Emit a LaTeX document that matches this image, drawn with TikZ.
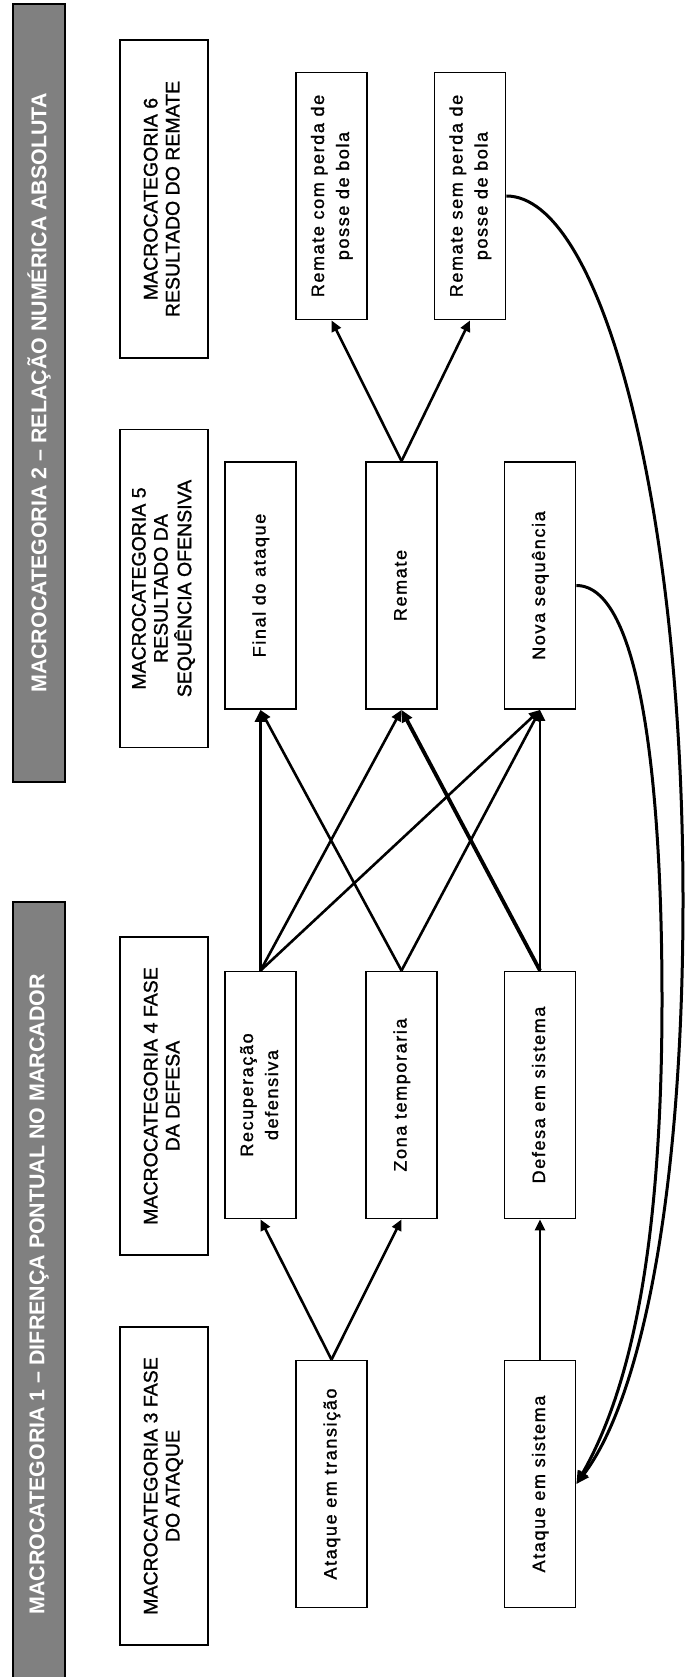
\documentclass[tikz,border=0pt]{standalone}
\usepackage{fontspec}
\usepackage{graphicx}
\setmainfont{Liberation Sans}
\newfontfamily\itemfont[LetterSpace=9,FakeBold=1.2]{Liberation Sans}
\newfontfamily\catfont[FakeBold=1.2]{Liberation Sans}
\usetikzlibrary{arrows.meta}

% vertical (bottom-to-top) multi-line label
\newcommand{\vlabel}[1]{\rotatebox{90}{\begin{tabular}{@{}c@{}}#1\end{tabular}}}

\tikzset{
  band/.style={draw=black, line width=1.8pt, fill=black!50, text=white,
    inner sep=0pt, minimum width=52pt,
    font=\bfseries\fontsize{21.4}{25}\selectfont},
  catbox/.style={draw=black, line width=1.8pt, fill=white, inner sep=0pt,
    minimum width=88pt, minimum height=318pt,
    font=\catfont\fontsize{19.5}{22}\selectfont},
  itembox/.style={draw=black, line width=1.8pt, fill=white, inner sep=0pt,
    minimum width=71pt, minimum height=247pt,
    font=\itemfont\fontsize{18}{25}\selectfont},
  arr/.style={line width=2.6pt, -{Triangle[length=11pt,width=10pt]}},
  thickarr/.style={line width=3.8pt, -{Triangle[length=12pt,width=11pt]}},
  loop/.style={line width=3pt, -{Triangle[length=13pt,width=11pt]}}
}

\begin{document}
\begin{tikzpicture}[x=1pt,y=-1pt]
\useasboundingbox[fill=white] (0,0) rectangle (686,1677);

% side bands
\node[band, minimum height=778pt] (band2) at (39,393)
  {\rotatebox{90}{MACROCATEGORIA 2 – RELAÇÃO NUMÉRICA ABSOLUTA}};
\node[band, minimum height=785pt] (band1) at (39,1294.5)
  {\rotatebox{90}{MACROCATEGORIA 1 – DIFRENÇA PONTUAL NO MARCADOR}};

% category headers
\node[catbox] (cat6) at (164,199)
  {\vlabel{MACROCATEGORIA 6\\RESULTADO DO REMATE}};
\node[catbox] (cat5) at (164,588.5)
  {\vlabel{MACROCATEGORIA 5\\RESULTADO DA\\SEQUÊNCIA OFENSIVA}};
\node[catbox] (cat4) at (164,1096)
  {\vlabel{MACROCATEGORIA 4 FASE\\DA DEFESA}};
\node[catbox] (cat3) at (164,1486)
  {\vlabel{MACROCATEGORIA 3 FASE\\DO ATAQUE}};

% result of the shot
\node[itembox] (rcom) at (331.5,196) {\vlabel{Remate com perda de\\posse de bola}};
\node[itembox] (rsem) at (470,196) {\vlabel{Remate sem perda de\\posse de bola}};

% result of the offensive sequence
\node[itembox] (final) at (260.5,585.5) {\vlabel{Final do ataque}};
\node[itembox] (remate) at (401.5,585.5) {\vlabel{Remate}};
\node[itembox] (nova) at (540,585.5) {\vlabel{Nova sequência}};

% defence phase
\node[itembox] (recup) at (260.5,1095) {\vlabel{Recuperação\\defensiva}};
\node[itembox] (zona) at (401.5,1095) {\vlabel{Zona temporaria}};
\node[itembox] (defsis) at (540,1095) {\vlabel{Defesa em sistema}};

% attack phase
\node[itembox] (atrans) at (331.5,1484) {\vlabel{Ataque em transição}};
\node[itembox] (atsis) at (540,1484) {\vlabel{Ataque em sistema}};

% attack -> defence
\draw[arr] (atrans.north) -- (recup.south);
\draw[arr] (atrans.north) -- (zona.south);
\draw[arr] (atsis.north) -- (defsis.south);

% defence -> offensive result
\draw[thickarr] (recup.north) -- (final.south);
\draw[arr] (recup.north) -- (remate.south);
\draw[arr] (recup.north) -- (nova.south);
\draw[arr] (zona.north) -- (final.south);
\draw[arr] (zona.north) -- (nova.south);
\draw[thickarr] (defsis.north) -- (remate.south);
\draw[arr] (defsis.north) -- (nova.south);

% shot -> outcome
\draw[arr] (remate.north) -- (rcom.south);
\draw[arr] (remate.north) -- (rsem.south);

% return loops to organised attack
\coordinate (outerbend) at (683,900);
\coordinate (innerbend) at (662,1000);
\draw[loop] (rsem.east) .. controls (600,196) and (683,500) .. (outerbend)
  .. controls (683,1200) and (640,1400) .. (atsis.east);
\draw[loop] (nova.east) .. controls (640,585.5) and (662,780) .. (innerbend)
  .. controls (662,1250) and (630,1390) .. (atsis.east);
\end{tikzpicture}
\end{document}
